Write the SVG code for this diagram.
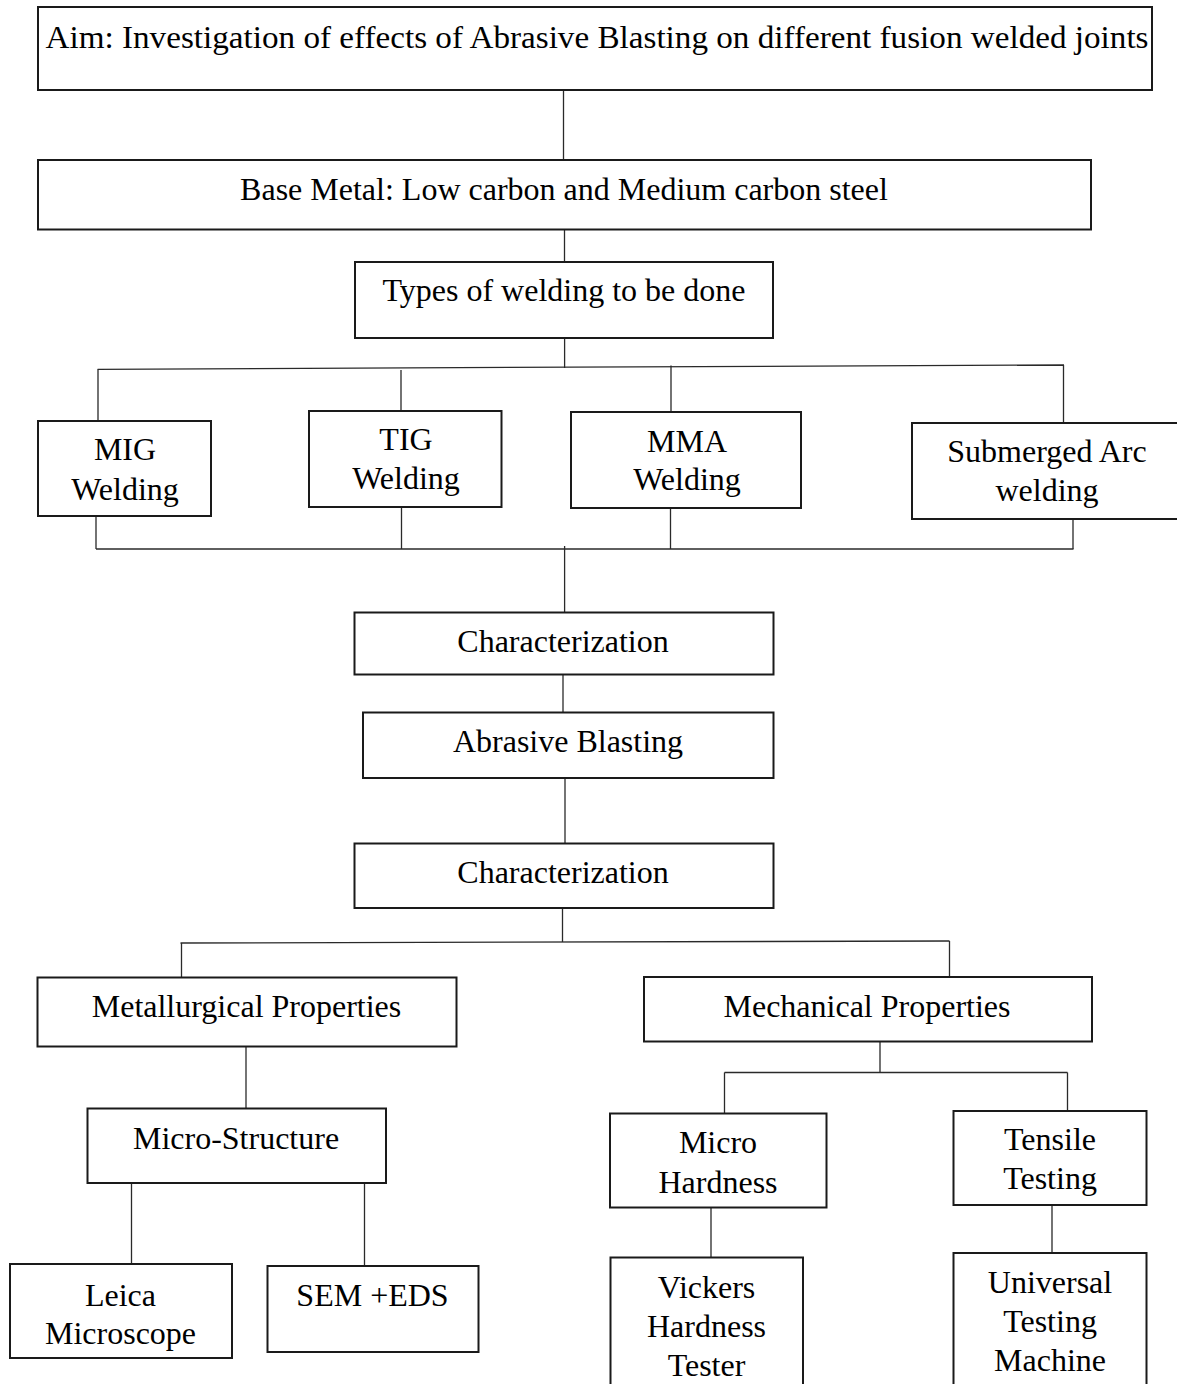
<svg xmlns="http://www.w3.org/2000/svg" width="1177" height="1384" viewBox="0 0 1177 1384">
<style>
.box{fill:#fff;stroke:#1a1a1a;stroke-width:2}
.t{font-family:"Liberation Serif","Times New Roman",serif;font-size:32px;fill:#000;text-anchor:middle}
.c{stroke:#2a2a2a;stroke-width:1.3;fill:none}
</style>
<rect width="1177" height="1384" fill="#fff"/>
<g id="connectors">
<path class="c" d="M563.5 90V160"/>
<path class="c" d="M564.5 229.5V262"/>
<path class="c" d="M564.6 338V368"/>
<path class="c" d="M97.6 369.3L1064 365"/>
<path class="c" d="M98 369.3V421M401 370V411M671 365.5V412M1063.5 365V423"/>
<path class="c" d="M96 549H1073.5"/>
<path class="c" d="M96 516V549M401.5 507V549M670.5 508V549M1073 519V549"/>
<path class="c" d="M564.6 546V612.5"/>
<path class="c" d="M563 674.5V712.5"/>
<path class="c" d="M565 778V843.5"/>
<path class="c" d="M562.5 908V942"/>
<path class="c" d="M180.5 943L949.5 941"/>
<path class="c" d="M181.5 943V977.5M949.5 941V977"/>
<path class="c" d="M246 1046.5V1108.5"/>
<path class="c" d="M880 1041.5V1072.5M724.5 1072.5H1067.5M724.5 1072.5V1113.5M1067.5 1072.5V1111"/>
<path class="c" d="M131.5 1183V1264M364.5 1183V1266"/>
<path class="c" d="M711 1207.5V1257.5M1052 1205V1253"/>
</g>
<g id="aim"><rect class="box" x="38" y="7" width="1114" height="83"/><text class="t" x="597" y="48" textLength="1103" lengthAdjust="spacingAndGlyphs">Aim: Investigation of effects of Abrasive Blasting on different fusion welded joints</text></g>
<g id="base"><rect class="box" x="38" y="160" width="1053" height="69.5"/><text class="t" x="564" y="200">Base Metal: Low carbon and Medium carbon steel</text></g>
<g id="types"><rect class="box" x="355" y="262" width="418" height="76"/><text class="t" x="564" y="301">Types of welding to be done</text></g>
<g id="mig"><rect class="box" x="38" y="421" width="173" height="95"/><text class="t" x="125" y="460">MIG</text><text class="t" x="125" y="500">Welding</text></g>
<g id="tig"><rect class="box" x="309" y="411" width="192.5" height="96"/><text class="t" x="406" y="450">TIG</text><text class="t" x="406" y="489">Welding</text></g>
<g id="mma"><rect class="box" x="571" y="412" width="230" height="96"/><text class="t" x="687" y="451.5">MMA</text><text class="t" x="687" y="490">Welding</text></g>
<g id="saw"><rect class="box" x="912" y="423" width="271" height="96"/><text class="t" x="1047" y="462">Submerged Arc</text><text class="t" x="1047" y="500.5">welding</text></g>
<g id="char1"><rect class="box" x="354.5" y="612.5" width="419" height="62"/><text class="t" x="563" y="652">Characterization</text></g>
<g id="abrasive"><rect class="box" x="363" y="712.5" width="410.5" height="65.5"/><text class="t" x="568" y="752">Abrasive Blasting</text></g>
<g id="char2"><rect class="box" x="354.5" y="843.5" width="419" height="64.5"/><text class="t" x="563" y="883">Characterization</text></g>
<g id="metallurgical"><rect class="box" x="37.5" y="977.5" width="419" height="69"/><text class="t" x="246.5" y="1017">Metallurgical Properties</text></g>
<g id="mechanical"><rect class="box" x="644" y="977" width="448" height="64.5"/><text class="t" x="867" y="1017">Mechanical Properties</text></g>
<g id="microstructure"><rect class="box" x="87.5" y="1108.5" width="298.5" height="74.5"/><text class="t" x="236" y="1148.5">Micro-Structure</text></g>
<g id="microhardness"><rect class="box" x="610" y="1113.5" width="216.5" height="94"/><text class="t" x="718" y="1152.5">Micro</text><text class="t" x="718" y="1192.5">Hardness</text></g>
<g id="tensile"><rect class="box" x="953.5" y="1111" width="193" height="94"/><text class="t" x="1050" y="1150">Tensile</text><text class="t" x="1050" y="1189">Testing</text></g>
<g id="leica"><rect class="box" x="10" y="1264" width="222" height="94"/><text class="t" x="120.5" y="1305.5">Leica</text><text class="t" x="120.5" y="1344">Microscope</text></g>
<g id="sem"><rect class="box" x="267.5" y="1266" width="211" height="86"/><text class="t" x="372.5" y="1305.5">SEM +EDS</text></g>
<g id="vickers"><rect class="box" x="610.5" y="1257.5" width="192.5" height="140"/><text class="t" x="706.5" y="1297.5">Vickers</text><text class="t" x="706.5" y="1336.5">Hardness</text><text class="t" x="706.5" y="1376">Tester</text></g>
<g id="universal"><rect class="box" x="953.5" y="1253" width="193" height="145"/><text class="t" x="1050" y="1292.5">Universal</text><text class="t" x="1050" y="1331.5">Testing</text><text class="t" x="1050" y="1370.5">Machine</text></g>
</svg>
